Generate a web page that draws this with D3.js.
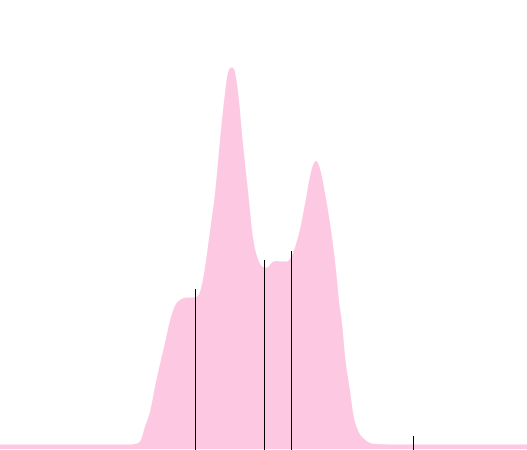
<!DOCTYPE html>
<html>
<head>
<meta charset="utf-8">
<script src="https://cdn.jsdelivr.net/npm/d3@7"></script>
<style>
  body { margin: 0; background: #fff; }
  svg { display: block; }
</style>
</head>
<body>
<script>
// density curve, sampled along the value axis
var xValues = [0, 24.7, 25.8, 26.6, 27.5, 28.5, 29.4, 30.4, 31.3, 32.3, 33.2, 34.2, 35.1, 36.1, 37.0, 37.6, 38.0, 38.5, 38.9,
  39.8, 40.8, 41.7, 42.7, 43.3, 43.8, 44.0, 44.4, 44.8, 45.2, 46.1, 47.1, 48.0, 49.0, 49.9, 50.7, 51.2, 51.8, 52.4,
  53.5, 54.5, 55.0, 55.4, 56.0, 56.4, 56.9, 57.9, 58.8, 59.4, 60.0, 60.5, 61.1, 62.0, 63.0, 63.9, 64.3, 64.9, 65.5,
  66.4, 67.0, 67.9, 69.3, 70.8, 74.0, 100];
var density = [1.1, 1.1, 1.3, 2.0, 5.5, 9.5, 15.5, 21.5, 26.5, 32.3, 35.8, 37.3, 37.8, 37.9, 37.9, 38.3, 39.5, 42.3, 45.5,
  54.0, 64.0, 76.5, 89.0, 94.3, 95.3, 95.4, 95.0, 92.8, 89.0, 76.5, 64.0, 53.0, 47.3, 45.5, 45.4, 46.0, 46.8, 47.0,
  46.9, 46.9, 47.5, 48.3, 50.5, 52.3, 54.8, 61.5, 68.0, 71.0, 72.0, 71.0, 68.0, 61.5, 53.0, 43.0, 37.3, 31.5, 23.0,
  14.8, 9.0, 4.8, 2.3, 1.3, 1.1, 1.1];

// marker lines
var markValues = [37.06, 50.15, 55.28, 78.4];
var markHeights = [40, 47.25, 49.5, 3.25];

var width = 527, height = 450;

var svg = d3.select("body").append("svg")
  .attr("width", width)
  .attr("height", height);

var x = d3.scaleLinear().domain([0, 100]).range([0, width]);
var y = d3.scaleLinear().domain([0, 100]).range([449, 49]);

var points = xValues.map(function(v, i) { return [v, density[i]]; });

var area = d3.area()
  .x(function(d) { return x(d[0]); })
  .y0(y(0))
  .y1(function(d) { return y(d[1]); })
  .curve(d3.curveMonotoneX);

svg.append("path")
  .datum(points)
  .attr("d", area)
  .attr("fill", "#fdc8e1");

//vertical marks
svg.selectAll("line.mark")
  .data(markValues)
  .enter()
  .append("line")
  .attr("class", "mark")
  .attr("x1", function(d) { return Math.floor(x(d)) + 0.5; })
  .attr("x2", function(d) { return Math.floor(x(d)) + 0.5; })
  .attr("y1", height)
  .attr("y2", function(d, i) { return y(markHeights[i]); })
  .attr("stroke", "#000")
  .attr("stroke-width", 1);
</script>
</body>
</html>
